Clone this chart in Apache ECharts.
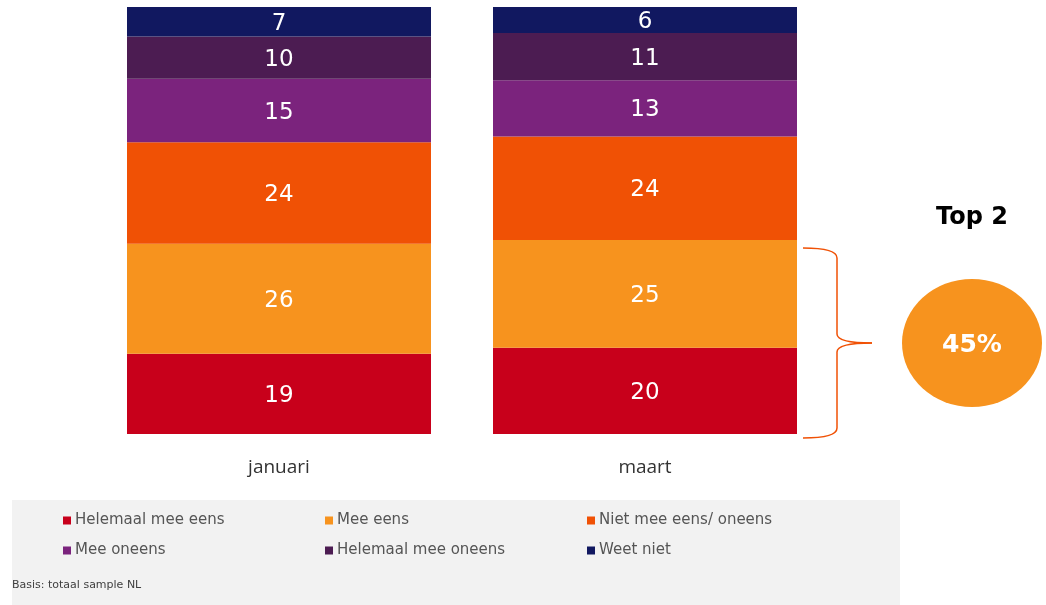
<!DOCTYPE html>
<html>
<head>
<meta charset="utf-8">
<script src="https://cdn.jsdelivr.net/npm/echarts@6/dist/echarts.min.js"></script>
<style>html,body{margin:0;padding:0;background:#fff;}#c{width:1046px;height:605px;}</style>
</head>
<body>
<div id="c"></div>
<script>
var categories = ['januari', 'maart'];
var seriesNames = ['Helemaal mee eens', 'Mee eens', 'Niet mee eens/ oneens', 'Mee oneens', 'Helemaal mee oneens', 'Weet niet'];
var helemaalMeeEens = [19, 20];
var meeEens = [26, 25];
var nietMeeEensOneens = [24, 24];
var meeOneens = [15, 13];
var helemaalMeeOneens = [10, 11];
var weetNiet = [7, 6];
var colors = ['#c8001b', '#f7931e', '#f05105', '#7b237d', '#4c1c52', '#111860'];

var raw = [helemaalMeeEens, meeEens, nietMeeEensOneens, meeOneens, helemaalMeeOneens, weetNiet];
var totals = categories.map(function (c, i) {
  return raw.reduce(function (s, arr) { return s + arr[i]; }, 0);
});
var top2 = helemaalMeeEens[1] + meeEens[1];

var series = raw.map(function (arr, k) {
  return {
    name: seriesNames[k],
    type: 'bar',
    stack: 'total',
    barWidth: 304,
    itemStyle: { color: colors[k] },
    data: arr.map(function (v, i) { return { value: v / totals[i] * 100, raw: v }; }),
    label: {
      show: true,
      position: 'inside',
      offset: [0, 2],
      color: '#fff',
      fontFamily: 'DejaVu Sans',
      fontSize: 23,
      formatter: function (p) { return p.data.raw; }
    }
  };
});

var legendCols = [63, 325, 587];
var legendRows = [513, 543];
var legends = seriesNames.map(function (n, k) {
  return {
    data: [n], left: legendCols[k % 3], top: legendRows[Math.floor(k / 3)],
    itemWidth: 8, itemHeight: 8, icon: 'rect', selectedMode: false, padding: 0,
    textStyle: { fontFamily: 'DejaVu Sans', fontSize: 15, color: '#555555', padding: [0, 0, 0, -1] }
  };
});

var braceStyle = { fill: 'none', stroke: '#f05105', lineWidth: 1.5 };
var chart = echarts.init(document.getElementById('c'), null, { renderer: 'canvas' });
chart.setOption({
  animation: false,
  grid: { left: 96, width: 732, top: 7, bottom: 171 },
  xAxis: {
    type: 'category',
    data: categories,
    axisLine: { show: false },
    axisTick: { show: false },
    axisLabel: { fontFamily: 'Open Sans', fontSize: 19, color: '#333', margin: 24 }
  },
  yAxis: { type: 'value', min: 0, max: 100, show: false },
  legend: legends,
  graphic: [
    { type: 'rect', z: -10, shape: { x: 12, y: 500, width: 888, height: 105 }, style: { fill: '#f2f2f2' } },
    { type: 'text', x: 12, y: 585, style: { text: 'Basis: totaal sample NL', fontFamily: 'DejaVu Sans', fontSize: 11, fill: '#404040', verticalAlign: 'middle' } },
    { type: 'text', x: 972, y: 218, style: { text: 'Top 2', fontFamily: 'DejaVu Sans', fontWeight: 'bold', fontSize: 24, fill: '#000', align: 'center', verticalAlign: 'middle' } },
    { type: 'circle', x: 972, y: 343, scaleX: 70 / 64, scaleY: 1, shape: { cx: 0, cy: 0, r: 64 }, style: { fill: '#f7931e' } },
    { type: 'text', x: 972, y: 345, z: 10, style: { text: top2 + '%', fontFamily: 'DejaVu Sans', fontWeight: 'bold', fontSize: 25, fill: '#fff', align: 'center', verticalAlign: 'middle' } },
    { type: 'bezierCurve', shape: { x1: 803, y1: 248, cpx1: 837, cpy1: 248, x2: 837, y2: 258 }, style: braceStyle },
    { type: 'line', shape: { x1: 837, y1: 258, x2: 837, y2: 334 }, style: braceStyle },
    { type: 'bezierCurve', shape: { x1: 837, y1: 334, cpx1: 837, cpy1: 343, x2: 872, y2: 343 }, style: braceStyle },
    { type: 'bezierCurve', shape: { x1: 872, y1: 343, cpx1: 837, cpy1: 343, x2: 837, y2: 352 }, style: braceStyle },
    { type: 'line', shape: { x1: 837, y1: 352, x2: 837, y2: 428 }, style: braceStyle },
    { type: 'bezierCurve', shape: { x1: 837, y1: 428, cpx1: 837, cpy1: 438, x2: 803, y2: 438 }, style: braceStyle }
  ],
  series: series
});
</script>
</body>
</html>
